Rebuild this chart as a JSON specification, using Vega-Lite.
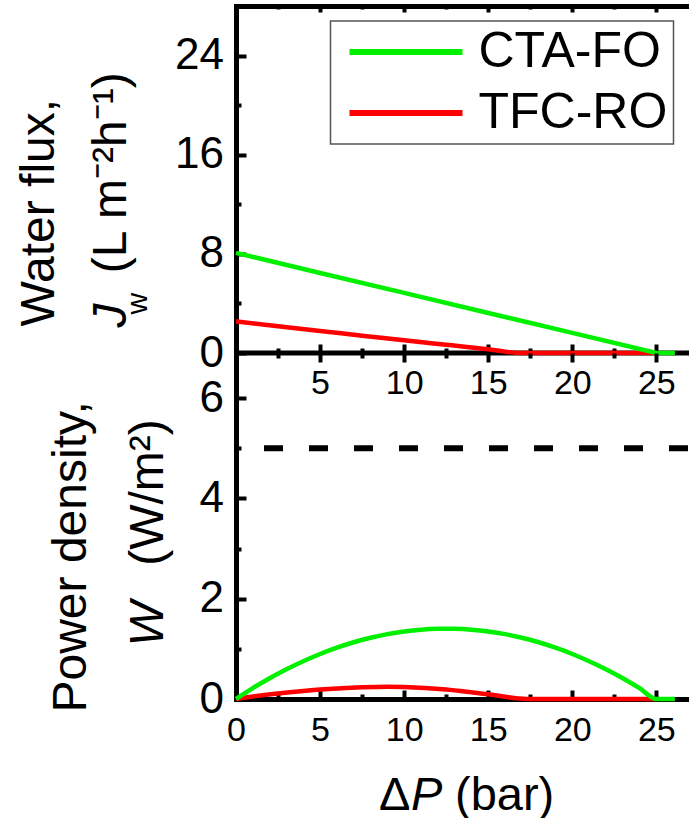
{
  "$schema": "https://vega.github.io/schema/vega-lite/v6.json",
  "background": "white",
  "padding": {"left": 15, "top": 4, "right": 0, "bottom": 0},
  "spacing": 0,
  "bounds": "flush",
  "datasets": {
    "flux": [
      {"series": "CTA-FO", "dp": 0, "jw": 8.08},
      {"series": "CTA-FO", "dp": 5, "jw": 6.46},
      {"series": "CTA-FO", "dp": 10, "jw": 4.85},
      {"series": "CTA-FO", "dp": 15, "jw": 3.23},
      {"series": "CTA-FO", "dp": 20, "jw": 1.62},
      {"series": "CTA-FO", "dp": 25, "jw": 0},
      {"series": "CTA-FO", "dp": 26.1, "jw": 0},
      {"series": "TFC-RO", "dp": 0, "jw": 2.56},
      {"series": "TFC-RO", "dp": 2.5, "jw": 2.15},
      {"series": "TFC-RO", "dp": 5, "jw": 1.77},
      {"series": "TFC-RO", "dp": 7.5, "jw": 1.4},
      {"series": "TFC-RO", "dp": 10, "jw": 1.02},
      {"series": "TFC-RO", "dp": 12.5, "jw": 0.66},
      {"series": "TFC-RO", "dp": 15, "jw": 0.3},
      {"series": "TFC-RO", "dp": 16, "jw": 0.11},
      {"series": "TFC-RO", "dp": 16.8, "jw": 0.01},
      {"series": "TFC-RO", "dp": 17.3, "jw": 0},
      {"series": "TFC-RO", "dp": 20, "jw": 0},
      {"series": "TFC-RO", "dp": 25, "jw": 0}
    ],
    "power": [
      {"series": "CTA-FO", "dp": 0, "w": 0},
      {"series": "CTA-FO", "dp": 1, "w": 0.216},
      {"series": "CTA-FO", "dp": 2, "w": 0.413},
      {"series": "CTA-FO", "dp": 3, "w": 0.593},
      {"series": "CTA-FO", "dp": 4, "w": 0.754},
      {"series": "CTA-FO", "dp": 5, "w": 0.898},
      {"series": "CTA-FO", "dp": 6, "w": 1.024},
      {"series": "CTA-FO", "dp": 7, "w": 1.132},
      {"series": "CTA-FO", "dp": 8, "w": 1.221},
      {"series": "CTA-FO", "dp": 9, "w": 1.293},
      {"series": "CTA-FO", "dp": 10, "w": 1.347},
      {"series": "CTA-FO", "dp": 11, "w": 1.383},
      {"series": "CTA-FO", "dp": 12, "w": 1.401},
      {"series": "CTA-FO", "dp": 12.5, "w": 1.403},
      {"series": "CTA-FO", "dp": 13, "w": 1.401},
      {"series": "CTA-FO", "dp": 14, "w": 1.383},
      {"series": "CTA-FO", "dp": 15, "w": 1.347},
      {"series": "CTA-FO", "dp": 16, "w": 1.293},
      {"series": "CTA-FO", "dp": 17, "w": 1.221},
      {"series": "CTA-FO", "dp": 18, "w": 1.132},
      {"series": "CTA-FO", "dp": 19, "w": 1.024},
      {"series": "CTA-FO", "dp": 20, "w": 0.898},
      {"series": "CTA-FO", "dp": 21, "w": 0.754},
      {"series": "CTA-FO", "dp": 22, "w": 0.593},
      {"series": "CTA-FO", "dp": 23, "w": 0.413},
      {"series": "CTA-FO", "dp": 24, "w": 0.216},
      {"series": "CTA-FO", "dp": 25, "w": 0},
      {"series": "CTA-FO", "dp": 26.1, "w": 0},
      {"series": "TFC-RO", "dp": 0, "w": 0},
      {"series": "TFC-RO", "dp": 1, "w": 0.05},
      {"series": "TFC-RO", "dp": 2.5, "w": 0.11},
      {"series": "TFC-RO", "dp": 5, "w": 0.19},
      {"series": "TFC-RO", "dp": 7.5, "w": 0.235},
      {"series": "TFC-RO", "dp": 9, "w": 0.245},
      {"series": "TFC-RO", "dp": 10, "w": 0.24},
      {"series": "TFC-RO", "dp": 12.5, "w": 0.19},
      {"series": "TFC-RO", "dp": 14, "w": 0.135},
      {"series": "TFC-RO", "dp": 15, "w": 0.095},
      {"series": "TFC-RO", "dp": 16, "w": 0.045},
      {"series": "TFC-RO", "dp": 16.8, "w": 0.01},
      {"series": "TFC-RO", "dp": 17.3, "w": 0},
      {"series": "TFC-RO", "dp": 20, "w": 0},
      {"series": "TFC-RO", "dp": 25, "w": 0}
    ]
  },
  "config": {
    "font": "Liberation Sans",
    "view": {"stroke": null},
    "axis": {
      "grid": false,
      "labelFont": "Liberation Sans",
      "titleFont": "Liberation Sans",
      "titleFontWeight": "normal",
      "titleFontSize": 48,
      "labelColor": "black",
      "titleColor": "black",
      "domainColor": "black",
      "tickColor": "black",
      "domainWidth": 5,
      "domainCap": "square",
      "tickWidth": 4,
      "labelFlush": false,
      "labelOverlap": false
    },
    "legend": {
      "strokeColor": "#555555",
      "strokeWidth": 1.5,
      "padding": 6
    }
  },
  "vconcat": [
    {
      "width": 454,
      "height": 347,
      "resolve": {"axis": {"x": "independent", "y": "independent"}},
      "layer": [
        {
          "data": {"values": [{"jw": 0}]},
          "mark": {"type": "rule", "color": "black", "strokeWidth": 5},
          "encoding": {
            "x": {
              "datum": 0, "type": "quantitative",
              "scale": {"domain": [0, 27], "nice": false},
              "axis": {
                "orient": "bottom", "values": [0, 2.5, 5, 7.5, 10, 12.5, 15, 17.5, 20, 22.5, 25],
                "labels": false, "domain": false, "title": null,
                "tickSize": {"condition": {"test": "datum.value % 5 === 0", "value": -9}, "value": -5}
              }
            },
            "x2": {"datum": 27},
            "y": {
              "field": "jw", "type": "quantitative",
              "scale": {"domain": [0, 28], "nice": false},
              "axis": {
                "orient": "left", "domain": false, "ticks": false, "labels": false,
                "title": "w", "titleFontSize": 30, "titleX": -90, "titleY": 308,
                "titleAngle": 270, "titleAlign": "left", "titleBaseline": "alphabetic"
              }
            }
          }
        },
        {
          "data": {"name": "flux"},
          "transform": [{"filter": "datum.series === 'TFC-RO'"}],
          "mark": {"type": "line", "strokeWidth": 4.5, "interpolate": "monotone"},
          "encoding": {
            "x": {
              "field": "dp", "type": "quantitative",
              "scale": {"domain": [0, 27], "nice": false},
              "axis": {
                "orient": "top", "values": [0, 2.5, 5, 7.5, 10, 12.5, 15, 17.5, 20, 22.5, 25],
                "labels": false, "domain": true, "title": null,
                "tickSize": {"condition": {"test": "datum.value % 5 === 0", "value": -6}, "value": -3}
              }
            },
            "y": {
              "field": "jw", "type": "quantitative",
              "scale": {"domain": [0, 28], "nice": false},
              "axis": {
                "orient": "left", "values": [0, 4, 8, 12, 16, 20, 24],
                "labels": false, "domain": false,
                "tickSize": {"condition": {"test": "datum.value % 8 === 0", "value": -10}, "value": -5},
                "title": "J", "titleFontStyle": "italic", "titleX": -110.5, "titleY": 321,
                "titleAngle": 270, "titleAlign": "left", "titleBaseline": "alphabetic"
              }
            },
            "color": {
              "field": "series", "type": "nominal",
              "scale": {"domain": ["CTA-FO", "TFC-RO"], "range": ["#00f000", "#ff0000"]},
              "legend": {
                "orient": "none", "legendX": 94.5, "legendY": 15, "title": null,
                "symbolType": "M-0.85,0H7.15", "symbolSize": 798, "symbolStrokeWidth": 6,
                "labelFontSize": 50, "labelFont": "Liberation Sans", "labelColor": "black",
                "labelOffset": 92, "rowPadding": 11, "labelLimit": 0
              }
            }
          }
        },
        {
          "data": {"name": "flux"},
          "transform": [{"filter": "datum.series === 'CTA-FO'"}],
          "mark": {"type": "line", "strokeWidth": 4.5},
          "encoding": {
            "x": {
              "field": "dp", "type": "quantitative",
              "scale": {"domain": [0, 27], "nice": false},
              "axis": {
                "orient": "bottom", "values": [5, 10, 15, 20, 25],
                "ticks": false, "domain": false, "title": null,
                "labelFontSize": 34, "labelPadding": 13.5
              }
            },
            "y": {
              "field": "jw", "type": "quantitative",
              "scale": {"domain": [0, 28], "nice": false},
              "axis": {
                "orient": "left", "values": [0, 8, 16, 24],
                "ticks": false, "domain": true,
                "labelFontSize": 44, "labelPadding": 12.5,
                "title": ["Water flux,", "\u200b\u00a0\u00a0\u00a0\u00a0(L m⁻²h⁻¹)"],
                "titleX": -182.5, "titleY": 320, "titleLineHeight": 72,
                "titleAngle": 270, "titleAlign": "left", "titleBaseline": "alphabetic"
              }
            },
            "color": {
              "field": "series", "type": "nominal",
              "scale": {"domain": ["CTA-FO", "TFC-RO"], "range": ["#00f000", "#ff0000"]},
              "legend": {
                "orient": "none", "legendX": 94.5, "legendY": 15, "title": null,
                "symbolType": "M-0.85,0H7.15", "symbolSize": 798, "symbolStrokeWidth": 6,
                "labelFontSize": 50, "labelFont": "Liberation Sans", "labelColor": "black",
                "labelOffset": 92, "rowPadding": 11, "labelLimit": 0
              }
            }
          }
        }
      ]
    },
    {
      "width": 454,
      "height": 346,
      "resolve": {"axis": {"x": "independent", "y": "independent"}},
      "layer": [
        {
          "data": {"values": [{"w": 5}]},
          "mark": {"type": "rule", "color": "black", "strokeWidth": 6, "strokeDash": [19, 26], "strokeDashOffset": 17},
          "encoding": {
            "x": {
              "datum": 0, "type": "quantitative",
              "scale": {"domain": [0, 27], "nice": false},
              "axis": {
                "orient": "top", "values": [0, 2.5, 5, 7.5, 10, 12.5, 15, 17.5, 20, 22.5, 25],
                "labels": false, "domain": false,
                "tickSize": {"condition": {"test": "datum.value % 5 === 0", "value": -9}, "value": -5},
                "title": "Δ", "titleFontSize": 47,
                "titleX": 142.5, "titleY": 456, "titleAngle": 0,
                "titleAlign": "left", "titleBaseline": "alphabetic"
              }
            },
            "x2": {"datum": 27},
            "y": {
              "field": "w", "type": "quantitative",
              "scale": {"domain": [0, 6.9], "nice": false},
              "axis": null
            }
          }
        },
        {
          "data": {"name": "power"},
          "transform": [{"filter": "datum.series === 'TFC-RO'"}],
          "mark": {"type": "line", "strokeWidth": 4.5, "interpolate": "monotone"},
          "encoding": {
            "x": {
              "field": "dp", "type": "quantitative",
              "scale": {"domain": [0, 27], "nice": false},
              "axis": {
                "orient": "bottom", "values": [0, 2.5, 5, 7.5, 10, 12.5, 15, 17.5, 20, 22.5, 25],
                "labels": false, "domain": false,
                "tickSize": {"condition": {"test": "datum.value % 5 === 0", "value": -9}, "value": -5},
                "title": "P", "titleFontStyle": "italic", "titleFontSize": 47,
                "titleX": 174.5, "titleY": 110, "titleAngle": 0,
                "titleAlign": "left", "titleBaseline": "alphabetic"
              }
            },
            "y": {
              "field": "w", "type": "quantitative",
              "scale": {"domain": [0, 6.9], "nice": false},
              "axis": {
                "orient": "left", "values": [0, 1, 2, 3, 4, 5, 6],
                "labels": false, "domain": false,
                "tickSize": {"condition": {"test": "datum.value % 2 === 0", "value": -10}, "value": -5},
                "title": "W", "titleFontStyle": "italic", "titleX": -73.5, "titleY": 293,
                "titleAngle": 270, "titleAlign": "left", "titleBaseline": "alphabetic"
              }
            },
            "color": {
              "field": "series", "type": "nominal",
              "scale": {"domain": ["CTA-FO", "TFC-RO"], "range": ["#00f000", "#ff0000"]},
              "legend": null
            }
          }
        },
        {
          "data": {"name": "power"},
          "transform": [{"filter": "datum.series === 'CTA-FO'"}],
          "mark": {"type": "line", "strokeWidth": 4.5, "interpolate": "monotone"},
          "encoding": {
            "x": {
              "field": "dp", "type": "quantitative",
              "scale": {"domain": [0, 27], "nice": false},
              "axis": {
                "orient": "bottom", "values": [0, 5, 10, 15, 20, 25],
                "ticks": false, "domain": true,
                "labelFontSize": 34, "labelPadding": 14,
                "title": "(bar)", "titleFontSize": 47,
                "titleX": 218.5, "titleY": 110, "titleAngle": 0,
                "titleAlign": "left", "titleBaseline": "alphabetic"
              }
            },
            "y": {
              "field": "w", "type": "quantitative",
              "scale": {"domain": [0, 6.9], "nice": false},
              "axis": {
                "orient": "left", "values": [0, 2, 4, 6],
                "ticks": false, "domain": true,
                "labelFontSize": 44, "labelPadding": 12.5,
                "title": ["Power density,", "\u200b\u00a0\u00a0\u00a0\u00a0\u00a0\u00a0\u00a0\u00a0\u00a0\u00a0\u00a0(W/m²)"],
                "titleX": -150.5, "titleY": 359, "titleLineHeight": 77,
                "titleAngle": 270, "titleAlign": "left", "titleBaseline": "alphabetic"
              }
            },
            "color": {
              "field": "series", "type": "nominal",
              "scale": {"domain": ["CTA-FO", "TFC-RO"], "range": ["#00f000", "#ff0000"]},
              "legend": null
            }
          }
        }
      ]
    }
  ]
}
